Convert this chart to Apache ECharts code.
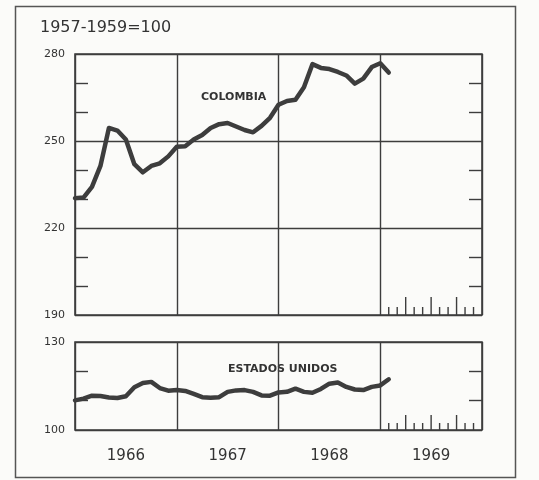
<!DOCTYPE html>
<html><head><meta charset="utf-8">
<script src="https://cdn.jsdelivr.net/npm/echarts@6/dist/echarts.min.js"></script>
<style>html,body{margin:0;padding:0;background:#fbfbf9}#c{width:539px;height:480px}</style>
</head><body><div id="c"></div>
<script>
// Monthly index values, month 0 = January 1966
const years = ['1966', '1967', '1968', '1969'];
const colombia = [230.3, 230.5, 234.2, 241.4, 254.5, 253.6, 250.5, 242.0, 239.2, 241.4, 242.3, 244.7,
  248.0, 248.2, 250.5, 252.1, 254.5, 255.8, 256.2, 255.0, 253.8, 253.0, 255.2, 258.0,
  262.5, 263.8, 264.2, 268.5, 276.5, 275.2, 274.8, 273.8, 272.6, 269.8, 271.5, 275.5,
  276.8, 273.6];
const estadosUnidos = [110.1, 110.7, 111.7, 111.6, 111.1, 110.9, 111.5, 114.6, 116.0, 116.4, 114.3, 113.4,
  113.6, 113.3, 112.3, 111.2, 111.0, 111.2, 113.0, 113.5, 113.6, 113.0, 111.8, 111.7,
  112.8, 113.0, 114.1, 113.0, 112.7, 114.0, 115.8, 116.2, 114.7, 113.8, 113.6, 114.7,
  115.2, 117.3];
const monthTicks1969 = [37, 38, 39, 40, 41, 42, 43, 44, 45, 46, 47];
const quarterTicks1969 = [39, 42, 45];

const INK = '#3d3d3d';
const FONT = 'DejaVu Sans';
const chart = echarts.init(document.getElementById('c'));

function monthTickSeries(gi, base, shortLen, longLen) {
  return {
    type: 'custom', xAxisIndex: gi, yAxisIndex: gi * 2, silent: true,
    data: monthTicks1969.map(m => [m, base]),
    encode: {x: 0, y: 1},
    renderItem: (params, api) => {
      const m = api.value(0);
      const p = api.coord([m, api.value(1)]);
      const len = quarterTicks1969.includes(m) ? longLen : shortLen;
      return {type: 'line', shape: {x1: p[0], y1: p[1], x2: p[0], y2: p[1] - len},
        style: {stroke: INK, lineWidth: 1.4}};
    }
  };
}

function yAxes(gi, min, max) {
  const common = {
    type: 'value', gridIndex: gi, min: min, max: max, interval: 30,
    axisLine: {show: false},
    axisTick: {show: false, inside: true},
    minorTick: {show: true, splitNumber: 3, length: 13, lineStyle: {color: INK, width: 1.4}},
    minorSplitLine: {show: false}
  };
  return [
    Object.assign({}, common, {position: 'left',
      splitLine: {show: true, lineStyle: {color: INK, width: 1.4}},
      axisLabel: {show: true, color: '#333', fontFamily: FONT, fontSize: 11, margin: 10}}),
    Object.assign({}, common, {position: 'right', splitLine: {show: false}, axisLabel: {show: false}})
  ];
}

function xValueAxis(gi) {
  return {
    type: 'value', gridIndex: gi, min: 0, max: 48, interval: 12,
    axisLine: {show: false}, axisTick: {show: false}, axisLabel: {show: false},
    splitLine: {show: true, lineStyle: {color: INK, width: 1.4}}
  };
}

chart.setOption({
  backgroundColor: '#fbfbf9',
  animation: false,
  grid: [
    {left: 75, top: 54, width: 407, height: 261, show: true, borderColor: INK, borderWidth: 1.6, backgroundColor: 'transparent'},
    {left: 75, top: 342, width: 407, height: 88, show: true, borderColor: INK, borderWidth: 1.6, backgroundColor: 'transparent'}
  ],
  xAxis: [
    xValueAxis(0),
    xValueAxis(1),
    {type: 'category', gridIndex: 1, data: years, boundaryGap: true, position: 'bottom',
      axisLine: {show: false}, axisTick: {show: false}, splitLine: {show: false},
      axisLabel: {color: '#333', fontFamily: FONT, fontSize: 15, margin: 19}}
  ],
  yAxis: [].concat(yAxes(0, 190, 280), yAxes(1, 100, 130)),
  graphic: [
    {type: 'rect', left: 13, top: 4, shape: {width: 500, height: 471},
      style: {fill: 'none', stroke: '#555', lineWidth: 1.5}, silent: true},
    {type: 'text', left: 40, top: 20, style: {text: '1957-1959=100', fill: '#333', font: '16px "DejaVu Sans"'}},
    {type: 'text', left: 201, top: 92, style: {text: 'COLOMBIA', fill: '#333', font: 'bold 11px "DejaVu Sans"'}},
    {type: 'text', left: 228, top: 364, style: {text: 'ESTADOS UNIDOS', fill: '#333', font: 'bold 11px "DejaVu Sans"'}}
  ],
  series: [
    {type: 'line', name: 'Colombia', xAxisIndex: 0, yAxisIndex: 0, symbol: 'none',
      data: colombia.map((v, i) => [i, v]),
      lineStyle: {color: INK, width: 4.5, join: 'round', cap: 'round'}},
    {type: 'line', name: 'Estados Unidos', xAxisIndex: 1, yAxisIndex: 2, symbol: 'none',
      data: estadosUnidos.map((v, i) => [i, v]),
      lineStyle: {color: INK, width: 4.5, join: 'round', cap: 'round'}},
    monthTickSeries(0, 190, 8, 18),
    monthTickSeries(1, 100, 7, 15)
  ]
});
</script>
</body></html>
